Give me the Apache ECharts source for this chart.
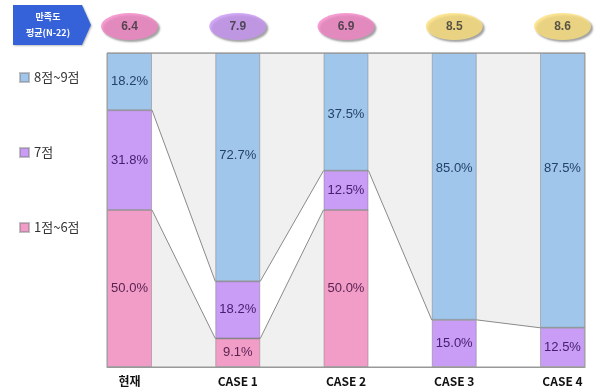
<!DOCTYPE html>
<html>
<head>
<meta charset="utf-8">
<script src="https://cdn.jsdelivr.net/npm/echarts@6/dist/echarts.min.js"></script>
<style>
html,body{margin:0;padding:0;background:#fff;}
#chart{width:595px;height:392px;}
</style>
</head>
<body>
<div id="chart"></div>
<script>
// 만족도 구간별 비율 (%)
var categories = ['현재', 'CASE 1', 'CASE 2', 'CASE 3', 'CASE 4'];
var low = [50.0, 9.1, 50.0, null, null];      // 1점~6점
var mid = [31.8, 18.2, 12.5, 15.0, 12.5];     // 7점
var high = [18.2, 72.7, 37.5, 85.0, 87.5];    // 8점~9점
var avgScore = [6.4, 7.9, 6.9, 8.5, 8.6];     // 만족도 평균

var chart = echarts.init(document.getElementById('chart'));
var half = 0.208; // 막대 반폭 (x축 단위)
var font = '"Noto Sans CJK KR", "Liberation Sans", sans-serif';

// 값을 첫 번째 차원에 두고 encode로 y에 매핑 (값 축끼리 누적되도록)
// 막대 좌/우 끝점에서 이어지는 계열선용 데이터
function edges(arr) {
	var out = [];
	for (var i = 0; i < arr.length; i++) {
		out.push([arr[i], i - half]);
		out.push([arr[i], i + half]);
	}
	return out;
}
function barData(arr, offsets) {
	return arr.map(function (v, i) {
		var d = {value: [v, i]};
		if (offsets && offsets[i]) d.label = {offset: [0, offsets[i]]};
		return d;
	});
}
function barSeries(name, arr, color, textColor, offsets) {
	return {
		name: name,
		type: 'bar',
		stack: 'bar',
		barWidth: 45,
		z: 5,
		encode: {x: 1, y: 0},
		data: barData(arr, offsets),
		itemStyle: {color: color, borderColor: 'rgba(120,120,120,0.45)', borderWidth: 1},
		label: {
			show: true,
			position: 'inside',
			color: textColor,
			fontSize: 13,
			fontFamily: '"Liberation Sans", Arial, sans-serif',
			formatter: function (p) { return p.value[0] == null ? '' : p.value[0].toFixed(1) + '%'; }
		}
	};
}
function lineSeries(name, arr, area) {
	return {
		name: name,
		type: 'line',
		stack: 'line',
		symbol: 'none',
		z: 2,
		silent: true,
		encode: {x: 1, y: 0},
		data: edges(arr),
		lineStyle: {color: '#8a8a8a', width: 1},
		areaStyle: area ? {color: area, opacity: 1} : null
	};
}

var ellipseColors = ['#f383c6', '#c793f3', '#f383c6', '#fbe07c', '#fbe07c'];

var option = {
	backgroundColor: '#fff',
	animation: false,
	legend: {
		orient: 'vertical',
		left: 14,
		top: 66,
		itemWidth: 9,
		itemHeight: 9,
		itemGap: 62,
		icon: 'rect',
		data: ['8점~9점', '7점', '1점~6점'],
		textStyle: {fontSize: 13, color: '#333', fontFamily: font}
	},
	graphic: [{
		type: 'polygon',
		shape: {points: [[13, 5], [82, 5], [91, 25], [82, 45], [13, 45]]},
		style: {fill: '#3562d8', shadowColor: 'rgba(0,0,0,0.25)', shadowBlur: 2, shadowOffsetX: 1, shadowOffsetY: 1}
	}, {
		type: 'text',
		x: 48,
		y: 25,
		style: {
			text: '만족도\n평균(N-22)',
			fill: '#fff',
			font: 'bold 9px ' + font,
			align: 'center',
			verticalAlign: 'middle',
			lineHeight: 16
		}
	}],
	grid: [
		{left: 107, right: 10, top: 53, bottom: 25, show: true, z: 10, borderColor: '#999', borderWidth: 1, backgroundColor: 'transparent'},
		{left: 107, right: 10, top: 0, height: 53}
	],
	xAxis: [{
		type: 'value',
		gridIndex: 0,
		min: -half,
		max: 4 + half,
		splitLine: {show: false},
		axisTick: {show: false},
		axisLine: {show: true, lineStyle: {color: '#999'}},
		axisLabel: {
			customValues: [0, 1, 2, 3, 4],
			formatter: function (v) { return categories[Math.round(v)]; },
			color: '#111',
			fontWeight: 'bold',
			fontSize: 12,
			fontFamily: font,
			margin: 8
		}
	}, {
		type: 'value',
		gridIndex: 1,
		min: -half,
		max: 4 + half,
		show: false
	}],
	yAxis: [{
		type: 'value',
		gridIndex: 0,
		min: 0,
		max: 100,
		show: false
	}, {
		type: 'value',
		gridIndex: 1,
		min: 0,
		max: 1,
		show: false
	}],
	series: [
		lineSeries('low-line', low, '#f0f0f0'),
		lineSeries('mid-line', mid, null),
		lineSeries('high-line', high, '#f0f0f0'),
		barSeries('1점~6점', low, '#f29dc8', '#5a2350'),
		barSeries('7점', mid, '#c99cf6', '#45206e'),
		barSeries('8점~9점', high, '#a0c6ec', '#23426a', [0, -12, 3, -18, -22]),
		{
			type: 'scatter',
			xAxisIndex: 1,
			yAxisIndex: 1,
			symbol: 'circle',
			symbolSize: [57, 27],
			data: avgScore.map(function (v, i) {
				return {value: [i, 0.5], score: v, itemStyle: {color: ellipseColors[i]}};
			}),
			itemStyle: {shadowColor: 'rgba(60,60,60,0.6)', shadowBlur: 2, shadowOffsetX: 2, shadowOffsetY: 2},
			label: {
				show: true,
				position: 'inside',
				color: '#333',
				fontWeight: 'bold',
				fontSize: 12,
				fontFamily: '"Liberation Sans", Arial, sans-serif',
				formatter: function (p) { return p.data.score.toFixed(1); }
			}
		}
	]
};
chart.setOption(option);
</script>
</body>
</html>
